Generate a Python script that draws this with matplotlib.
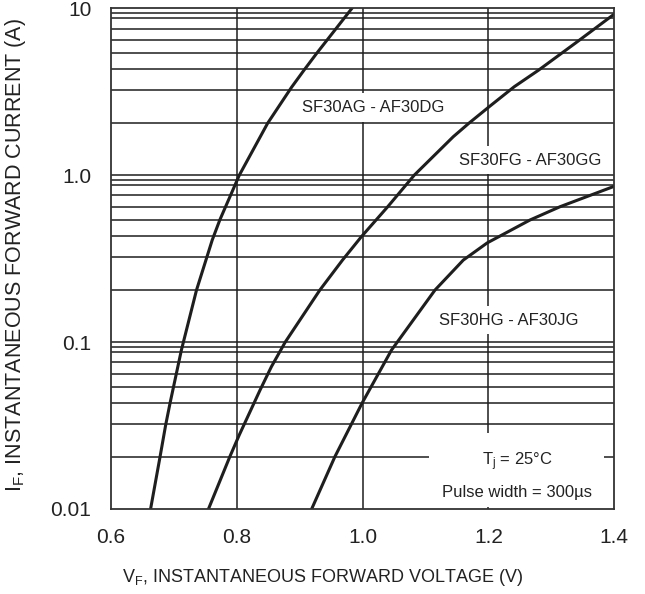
import matplotlib
matplotlib.use("Agg")
import matplotlib.pyplot as plt
from matplotlib.patches import Rectangle

plt.rcParams['font.family'] = ['Liberation Sans', 'DejaVu Sans']
plt.rcParams['mathtext.fontset'] = 'custom'
plt.rcParams['mathtext.rm'] = 'Liberation Sans'
plt.rcParams['mathtext.it'] = 'Liberation Sans:italic'

# forward voltage (V) vs forward current (A)
vf_ad = [0.663, 0.678, 0.687, 0.694, 0.712, 0.736, 0.761, 0.773, 0.804, 0.849, 0.887, 0.907, 0.927, 0.983]
if_ad = [0.01, 0.0205, 0.0319, 0.0432, 0.0897, 0.205, 0.409, 0.539, 1.0, 2.047, 3.363, 4.268, 5.375, 10.0]

vf_fg = [0.755, 0.789, 0.804, 0.837, 0.855, 0.877, 0.932, 0.968, 0.998, 1.040, 1.082, 1.144, 1.169, 1.201, 1.241, 1.280, 1.339, 1.398]
if_fg = [0.01, 0.0206, 0.0278, 0.0516, 0.0712, 0.1, 0.205, 0.310, 0.428, 0.648, 1.0, 1.70, 2.05, 2.57, 3.39, 4.27, 6.22, 9.12]

vf_hj = [0.919, 0.956, 0.999, 1.046, 1.115, 1.160, 1.198, 1.266, 1.314, 1.398]
if_hj = [0.01, 0.0206, 0.043, 0.0897, 0.205, 0.310, 0.393, 0.539, 0.648, 0.853]

curve_labels = ["SF30AG - AF30DG", "SF30FG - AF30GG", "SF30HG - AF30JG"]
label_pos = [(1.017, 2.55), (1.266, 1.23), (1.232, 0.1355)]

x_ticks = [0.6, 0.8, 1.0, 1.2, 1.4]
x_ticklabels = ["0.6", "0.8", "1.0", "1.2", "1.4"]
y_ticks = [0.01, 0.1, 1.0, 10]
y_ticklabels = ["0.01", "0.1", "1.0", "10"]

# the printed grid is not quite logarithmic, these are where the lines sit inside a decade
grid_frac = [0.313, 0.51, 0.636, 0.731, 0.811, 0.879, 0.94, 0.973]
decades = [-2, -1, 0]

ink = '#1e1e1e'

fig = plt.figure(figsize=(6.45, 5.94), dpi=100)
ax = fig.add_axes([0.172, 0.1431, 0.7804, 0.8429])
ax.set_yscale('log')
ax.set_xlim(0.6, 1.4)
ax.set_ylim(0.01, 10)

# grid: verticals sit under the label boxes, horizontals run over them
for x in [0.8, 1.0, 1.2]:
    ax.axvline(x, color=ink, lw=1.1, zorder=1)
for d in decades:
    for f in grid_frac:
        ax.axhline(10 ** (d + f), color=ink, lw=1.1, zorder=3)
for y in [0.1, 1.0]:
    ax.axhline(y, color=ink, lw=1.1, zorder=3)

for v, i in [(vf_ad, if_ad), (vf_fg, if_fg), (vf_hj, if_hj)]:
    ax.plot(v, i, color=ink, lw=2.2, zorder=6, solid_joinstyle='round')

for txt, (x, y) in zip(curve_labels, label_pos):
    ax.text(x, y, txt, fontsize=12, color='#222222', ha='center', va='center', zorder=2,
            bbox=dict(boxstyle='square,pad=0.4', facecolor='white', edgecolor='none'))

ax.add_patch(Rectangle((0.632, 0.004), 0.348, 0.148, transform=ax.transAxes,
                       facecolor='white', edgecolor='none', zorder=4))
ax.text(1.246, 0.0191, r"T$_\mathrm{j}$ = 25°C", fontsize=12, color='#222222',
        ha='center', va='center', zorder=5)
ax.text(1.246, 0.0125, "Pulse width = 300µs", fontsize=12, color='#222222',
        ha='center', va='center', zorder=5)

ax.set_xticks(x_ticks)
ax.set_xticklabels(x_ticklabels)
ax.set_yticks(y_ticks)
ax.set_yticklabels(y_ticklabels)
ax.minorticks_off()
ax.tick_params(axis='both', length=0, labelsize=15, colors='#222222')
ax.tick_params(axis='x', pad=14)
ax.tick_params(axis='y', pad=14)

for s in ax.spines.values():
    s.set_color('#333333')
    s.set_linewidth(1.3)
    s.set_zorder(7)

ax.set_xlabel(r"V$_\mathrm{F}$, INSTANTANEOUS FORWARD VOLTAGE (V)", fontsize=13, color='#222222')
ax.set_ylabel(r"I$_\mathrm{F}$, INSTANTANEOUS FORWARD CURRENT (A)", fontsize=15.5, color='#222222')
ax.xaxis.set_label_coords(0.42, -0.115)
ax.yaxis.set_label_coords(-0.165, 0.507)

fig.savefig("out.png", dpi=100)
